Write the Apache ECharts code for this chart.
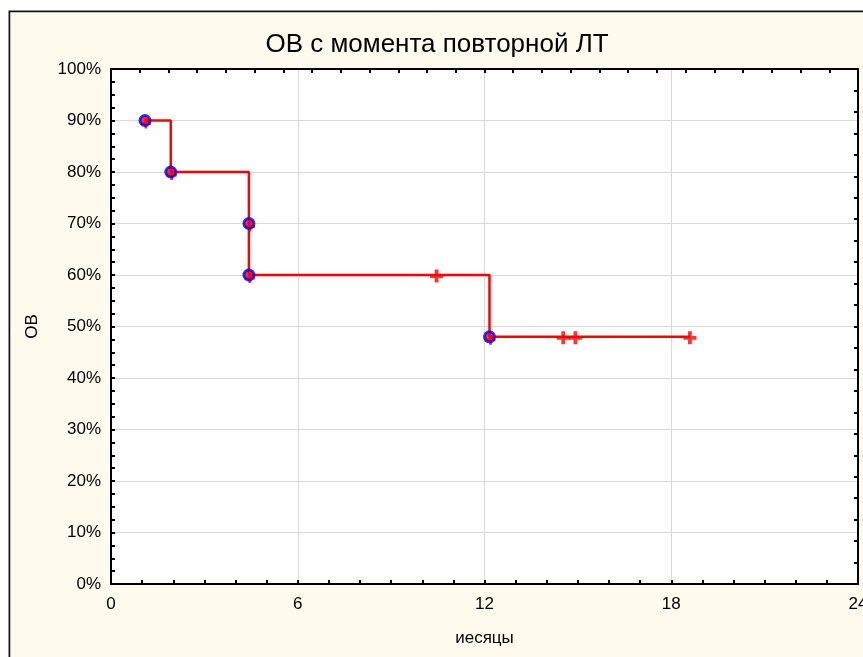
<!DOCTYPE html>
<html>
<head>
<meta charset="utf-8">
<script src="https://cdn.jsdelivr.net/npm/echarts@6/dist/echarts.min.js"></script>
<style>
  html, body { margin: 0; padding: 0; background: #fff; }
  #chart { width: 863px; height: 657px; }
</style>
</head>
<body>
<div id="chart"></div>
<script>
// события (смерти): месяцы и доля выживших
const eventMonths = [1.09, 1.92, 4.43, 4.43, 12.16];
const eventSurvival = [90, 80, 70, 60, 48];
// цензурированные наблюдения
const censorMonths = [10.46, 14.53, 14.92, 18.6];
const censorSurvival = [60, 48, 48, 48];

const xTicks = [0, 6, 12, 18, 24];
const yTicks = [0, 10, 20, 30, 40, 50, 60, 70, 80, 90, 100];

const FONT = "'Liberation Sans', Arial, sans-serif";
const plus = 'path://M4.25,0h3.5v4.25h4.25v3.5h-4.25v4.25h-3.5v-4.25h-4.25v-3.5h4.25z';

const eventPts = eventMonths.map((m, i) => [m, eventSurvival[i]]);
const censorPts = censorMonths.map((m, i) => [m, censorSurvival[i]]);
// ступенчатая кривая: события + последнее цензурированное наблюдение
const curve = eventPts.concat([censorPts[censorPts.length - 1]]);

function frameLine() {
  return { show: true, onZero: false, lineStyle: { color: '#000', width: 2 } };
}
function tick() {
  return { show: true, inside: true, length: 4, lineStyle: { color: '#000', width: 2 } };
}

const chart = echarts.init(document.getElementById('chart'));
chart.setOption({
  animation: false,
  textStyle: { fontFamily: FONT },
  graphic: [
    { type: 'rect', z: -10, shape: { x: 8.5, y: 10.5, width: 900, height: 700 },
      style: { fill: '#fffaee', stroke: '#b8b8b8', lineWidth: 1 } },
    { type: 'rect', z: -9, shape: { x: 9.5, y: 11.5, width: 900, height: 700 },
      style: { fill: '#fffaee', stroke: '#111', lineWidth: 1.5 } }
  ],
  title: {
    text: 'ОВ с момента повторной ЛТ',
    left: 432, top: 27, textAlign: 'center',
    textStyle: { fontFamily: FONT, fontSize: 26, fontWeight: 'normal', color: '#000' }
  },
  grid: {
    left: 111, right: 5, top: 69, bottom: 73, show: true, backgroundColor: '#fff', borderWidth: 0,
    containLabel: false, outerBoundsMode: 'none'
  },
  xAxis: [
    {
      type: 'value', min: xTicks[0], max: xTicks[xTicks.length - 1], interval: 6, position: 'bottom',
      name: 'иесяцы', nameLocation: 'middle', nameGap: 46,
      nameTextStyle: { fontFamily: FONT, fontSize: 17, color: '#000' },
      axisLine: frameLine(), axisTick: tick(),
      minorTick: { show: true, splitNumber: 6, length: 4, lineStyle: { color: '#000', width: 2 } },
      axisLabel: { fontSize: 17, color: '#000', margin: 12, fontFamily: FONT },
      splitLine: { show: true, lineStyle: { color: '#d9d9d9', width: 1 } }
    },
    {
      type: 'value', min: 0, max: 26, interval: 1, position: 'top',
      axisLine: frameLine(), axisTick: tick(), axisLabel: { show: false }, splitLine: { show: false }
    }
  ],
  yAxis: [
    {
      type: 'value', min: yTicks[0], max: yTicks[yTicks.length - 1], interval: 10, position: 'left',
      name: 'ОВ', nameLocation: 'middle', nameGap: 70,
      nameTextStyle: { fontFamily: FONT, fontSize: 17, color: '#000' },
      axisLine: frameLine(), axisTick: tick(),
      minorTick: { show: true, splitNumber: 4, length: 4, lineStyle: { color: '#000', width: 2 } },
      axisLabel: { fontSize: 17, color: '#000', margin: 10, formatter: '{value}%', fontFamily: FONT },
      splitLine: { show: true, lineStyle: { color: '#d9d9d9', width: 1 } }
    },
    {
      type: 'value', min: 0, max: 24, interval: 1, position: 'right',
      axisLine: frameLine(), axisTick: tick(), axisLabel: { show: false }, splitLine: { show: false }
    }
  ],
  series: [
    {
      type: 'line', step: 'end', data: curve, showSymbol: false, symbol: 'none',
      lineStyle: { color: '#ff0000', width: 2.5 }, z: 2
    },
    {
      type: 'scatter', data: eventPts, symbol: plus, symbolSize: 10, symbolOffset: [1, 3],
      itemStyle: { color: '#ff0000' }, z: 3
    },
    {
      type: 'scatter', data: eventPts, symbol: 'circle', symbolSize: 10,
      itemStyle: { color: '#ff0000', borderColor: '#0000ff', borderWidth: 3 }, z: 4
    },
    {
      type: 'scatter', data: censorPts, symbol: plus, symbolSize: 13, symbolOffset: [0, 1],
      itemStyle: { color: '#ff0000' }, z: 4
    }
  ]
});
</script>
</body>
</html>
